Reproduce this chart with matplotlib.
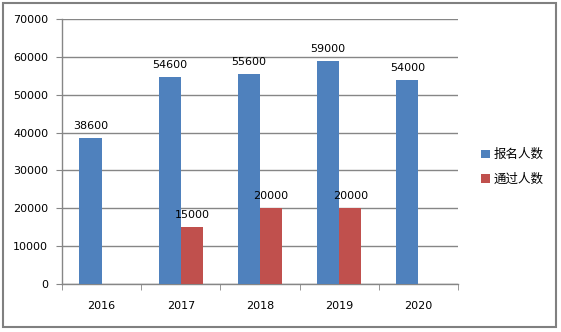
import matplotlib
matplotlib.use("Agg")
import matplotlib.pyplot as plt
import numpy as np
from matplotlib.patches import Rectangle

plt.rcParams['font.family'] = ['DejaVu Sans', 'Noto Sans CJK SC']

years = ['2016', '2017', '2018', '2019', '2020']
applicants = [38600, 54600, 55600, 59000, 54000]
passed = [None, 15000, 20000, 20000, None]
series_names = ['报名人数', '通过人数']
colors = ['#4F81BD', '#C0504D']

fig = plt.figure(figsize=(5.61, 3.32), dpi=100)
ax = fig.add_axes([62/561, 1-284/332, (458-62)/561, (284-19)/332])

x = np.arange(len(years))
w = 0.28
b1 = ax.bar(x - w/2, applicants, w, color=colors[0], label=series_names[0], zorder=3)
pv = [v if v is not None else 0 for v in passed]
b2 = ax.bar(x + w/2, pv, w, color=colors[1], label=series_names[1], zorder=3)

for xi, v in zip(x, applicants):
    ax.text(xi - w/2, v + 1800, f'{v}', ha='center', va='bottom', fontsize=8, color='black')
for xi, v in zip(x, passed):
    if v is not None:
        ax.text(xi + w/2, v + 1800, f'{v}', ha='center', va='bottom', fontsize=8, color='black')

ax.set_ylim(0, 70000)
ax.set_yticks(np.arange(0, 70001, 10000))
ax.set_xlim(-0.5, len(years) - 0.5)
ax.set_xticks(x)
ax.set_xticklabels(years)
ax.set_xticks(np.arange(-0.5, len(years)), minor=True)
ax.tick_params(axis='x', which='major', length=0, pad=12, labelsize=8)
ax.tick_params(axis='x', which='minor', length=4, color='#868686', direction='out')
ax.tick_params(axis='y', length=4, color='#868686', pad=6, labelsize=8)
ax.yaxis.grid(True, color='#868686', linewidth=1, zorder=0)
for s in ['top', 'right']:
    ax.spines[s].set_visible(False)
for s in ['left', 'bottom']:
    ax.spines[s].set_color('#868686')
    ax.spines[s].set_linewidth(1)

leg = fig.legend(handles=[b1, b2], labels=series_names, loc='upper left',
                 bbox_to_anchor=(470/561, 1-137/332), frameon=False,
                 prop={'family': ['Noto Sans CJK SC'], 'size': 9},
                 handlelength=0.7, handleheight=0.7, handletextpad=0.3,
                 labelspacing=0.9)

fig.patches.append(Rectangle((3/561, 5/332), 553/561, 324/332, transform=fig.transFigure,
                             fill=False, edgecolor='#808080', linewidth=1.5))

fig.savefig('out.png', dpi=100)
